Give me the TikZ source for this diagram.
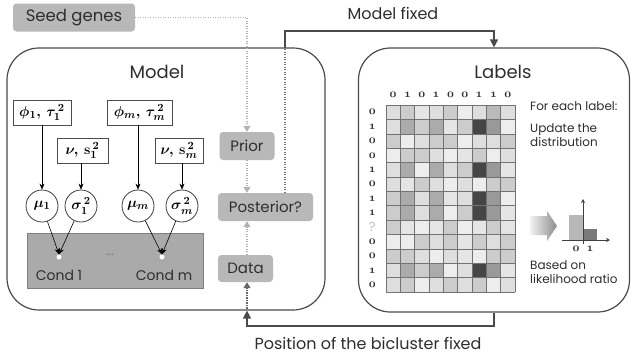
\documentclass[tikz,border=0pt]{standalone}
\usepackage{fontspec}
\setmainfont{Poppins}
\usetikzlibrary{arrows.meta,calc}
\definecolor{boxgray}{HTML}{B8B8B8}
\definecolor{condgray}{HTML}{AAAAAA}
\definecolor{linedark}{HTML}{4A4A4A}
\definecolor{txt}{HTML}{2E2E2E}
\newcommand{\osnum}[1]{{\boldmath$\mathnormal{#1}$}}
\tikzset{
  bigbox/.style={draw=linedark, line width=1.2pt, rounded corners=32pt, fill=white, inner sep=0pt},
  gbox/.style={fill=boxgray, rounded corners=3.5pt, font=\fontsize{15}{15}\selectfont, text=txt, inner sep=0pt},
  param/.style={draw=black!70, line width=0.8pt, fill=white, inner sep=0pt, font=\fontsize{15}{15}\selectfont\boldmath},
  var/.style={circle, draw=black!75, line width=0.8pt, fill=white, minimum size=32pt, inner sep=0pt, font=\fontsize{15}{15}\selectfont\boldmath},
  blk/.style={draw=black, line width=0.6pt, -{Stealth[length=6pt,width=5pt]}},
  lgdot/.style={draw=black!30, line width=1.2pt, dash pattern=on 1.2pt off 1.3pt, -{Triangle[length=6pt,width=7pt]}},
  dkdot/.style={draw=black!55, line width=1.2pt, dash pattern=on 1.2pt off 1.3pt},
  solidln/.style={draw=linedark, line width=1.4pt},
  osn/.style={inner sep=0pt, font=\fontsize{12}{12}\selectfont, text=txt},
  title/.style={font=\fontsize{18}{18}\selectfont, text=txt, inner sep=0pt},
  side/.style={font=\fontsize{12}{14.5}\selectfont, text=txt, inner sep=0pt, anchor=west, align=left},
  gridc/.style={draw=black!55, line width=0.5pt}
}
\begin{document}
\begin{tikzpicture}[x=1pt,y=-1pt]
\useasboundingbox[fill=white] (0,0) rectangle (635,360);

% big boxes
\node[bigbox, minimum width=318pt, minimum height=262pt] (model) at (166,179) {};
\node[bigbox, minimum width=271pt, minimum height=264pt] (labels) at (494,180) {};
\node[title] (modelt) at (157,72) {Model};
\node[title] (labelst) at (503,72) {Labels};

% seed genes and gray boxes
\node[gbox, minimum width=122pt, minimum height=28pt, font=\fontsize{16.5}{16.5}\selectfont] (seed) at (74,17.5) {Seed genes};
\node[gbox, minimum width=55pt, minimum height=28pt] (prior) at (247,146) {Prior};
\node[gbox, minimum width=95pt, minimum height=28pt] (post) at (265.5,207) {Posterior?};
\node[gbox, minimum width=55pt, minimum height=27pt] (data) at (245.5,268.5) {Data};

% dotted connectors
\draw[lgdot] (seed.east) -| (prior.north);
\draw[lgdot] (prior.south) -- (prior.south |- post.north);
\draw[lgdot] (data.north -| prior) -- (prior |- post.south);

% model fixed
\coordinate (mf) at (285,48);
\coordinate (mftop) at (285,31);
\draw[dkdot] (post.north -| mf) -- (mf);
\draw[solidln, -{Triangle[length=8pt,width=8pt]}] (mf) -- (mftop) -| (labels.north);
\node[font=\fontsize{16}{16}\selectfont, text=txt, inner sep=0pt] (mft) at (393,13) {Model fixed};

% position fixed
\coordinate (pos) at (247,326);
\draw[solidln, -{Triangle[length=8pt,width=8pt]}] (labels.south) |- (pos) -- (pos |- model.south);
\draw[dkdot, -{Triangle[length=6pt,width=7pt]}, draw=black!60] ($(pos |- model.south)+(0,-2)$) -- (pos |- data.south);
\node[font=\fontsize{16}{16}\selectfont, text=txt, inner sep=0pt] (post2) at (368,343) {Position of the bicluster fixed};

% parameter boxes
\node[param, minimum width=58pt, minimum height=25pt] (p1) at (42,112.5) {$\phi_1,\,\tau_1^{\,2}$};
\node[param, minimum width=65pt, minimum height=25pt] (pm) at (139.5,112.5) {$\phi_m,\,\tau_m^{\,2}$};
\node[param, minimum width=51pt, minimum height=25pt] (n1) at (82.5,150.5) {$\nu,\,\mathbf{s}_1^{\,2}$};
\node[param, minimum width=48pt, minimum height=25pt] (nm) at (179,150.5) {$\nu,\,\mathbf{s}_m^{\,2}$};

% variables
\node[var] (mu1) at (42,206) {$\mu_1$};
\node[var] (s1) at (81,206) {$\sigma_1^{\,2}$};
\node[var] (mum) at (138,206) {$\mu_m$};
\node[var] (smm) at (182,206) {$\sigma_m^{\,2}$};

\draw[blk] (p1.south -| mu1) -- (mu1.north);
\draw[blk] (n1.south -| s1) -- (s1.north);
\draw[blk] (pm.south -| mum) -- (mum.north);
\draw[blk] (nm.south -| smm) -- (smm.north);

% conditions
\node[fill=condgray, draw=black!50, line width=0.6pt, minimum width=176pt, minimum height=55pt, inner sep=0pt] (cond) at (115,260.5) {};
\node[circle, fill=white, inner sep=0pt, minimum size=5pt] (d1) at (59,257) {};
\node[circle, fill=white, inner sep=0pt, minimum size=5pt] (dm) at (162,257) {};
\draw[blk] (mu1) -- (d1.north);
\draw[blk] (s1) -- (d1.north);
\draw[blk] (mum) -- (dm.north);
\draw[blk] (smm) -- (dm.north);
\node[font=\fontsize{14}{14}\selectfont, text=txt, inner sep=0pt] (c1) at (59,275) {Cond 1};
\node[font=\fontsize{14}{14}\selectfont, text=txt, inner sep=0pt] (cm) at (164,275) {Cond m};
\node[font=\fontsize{12}{12}\selectfont, text=black!55, inner sep=0pt] (dots) at (110,255) {...};

% grid
\begin{scope}[shift={(386,105)}, x=14.333pt, y=-14.385pt]
\foreach \rowv [count=\rr] in {
 {13,20,10,13,20,7,13,27,13},
 {13,33,20,33,10,20,73,40,7},
 {20,7,13,20,20,7,13,13,20},
 {7,20,20,13,7,10,20,7,13},
 {13,33,7,33,13,20,73,40,10},
 {13,10,20,13,7,13,7,20,20},
 {20,33,13,33,10,13,73,40,7},
 {20,33,13,33,7,20,73,40,10},
 {20,10,7,10,20,7,10,20,10},
 {7,7,20,13,20,10,20,13,20},
 {20,20,13,7,13,10,7,20,20},
 {13,33,20,33,7,13,73,40,10},
 {13,20,7,13,20,13,20,7,13}}{
  \foreach \vv [count=\cc] in \rowv {
    \fill[black!\vv] (\cc-1,\rr-1) rectangle (\cc,\rr);
  }
}
\foreach \ii in {0,...,9} {\draw[gridc] (\ii,0) -- (\ii,13);}
\foreach \jj in {0,...,13} {\draw[gridc] (0,\jj) -- (9,\jj);}
\foreach \lab [count=\kk] in {0,1,0,1,0,0,1,1,0} {
  \node[osn] (cl\kk) at (\kk-0.5,-0.7) {\osnum{\lab}};
}
\foreach \kk/\lab in {1/0,2/1,3/0,4/0,5/1,6/0,7/1,8/1,10/0,11/0,12/1,13/0} {
  \node[osn] (rl\kk) at (-0.95,\kk-0.5) {\osnum{\lab}};
}
\node[inner sep=0pt, font=\fontsize{13}{13}\selectfont, text=black!25] (rl9) at (-0.95,8.45) {?};
\end{scope}

% side texts
\node[side] (fe) at (530,106) {For each label:};
\node[side] (ud) at (530,135) {Update the\\distribution};
\node[side] (bo) at (530,272) {Based on\\likelihood ratio};

% fat arrow
\shade[left color=black!5, right color=black!45] (530,216) -- (547,216) -- (547,211) -- (557,226) -- (547,241) -- (547,235) -- (530,235) -- cycle;

% bar chart
\fill[black!28] (569,215) rectangle (583,240);
\fill[black!52] (583,229) rectangle (597,240);
\draw[black!75, line width=0.8pt, -{Stealth[length=4pt,width=4pt]}] (562,240) -- (610,240);
\draw[black!75, line width=0.8pt, -{Stealth[length=4pt,width=4pt]}] (583,244) -- (583,199);
\node[osn] (b0) at (576,249) {\osnum{0}};
\node[osn] (b1) at (590,249) {\osnum{1}};
\end{tikzpicture}
\end{document}
